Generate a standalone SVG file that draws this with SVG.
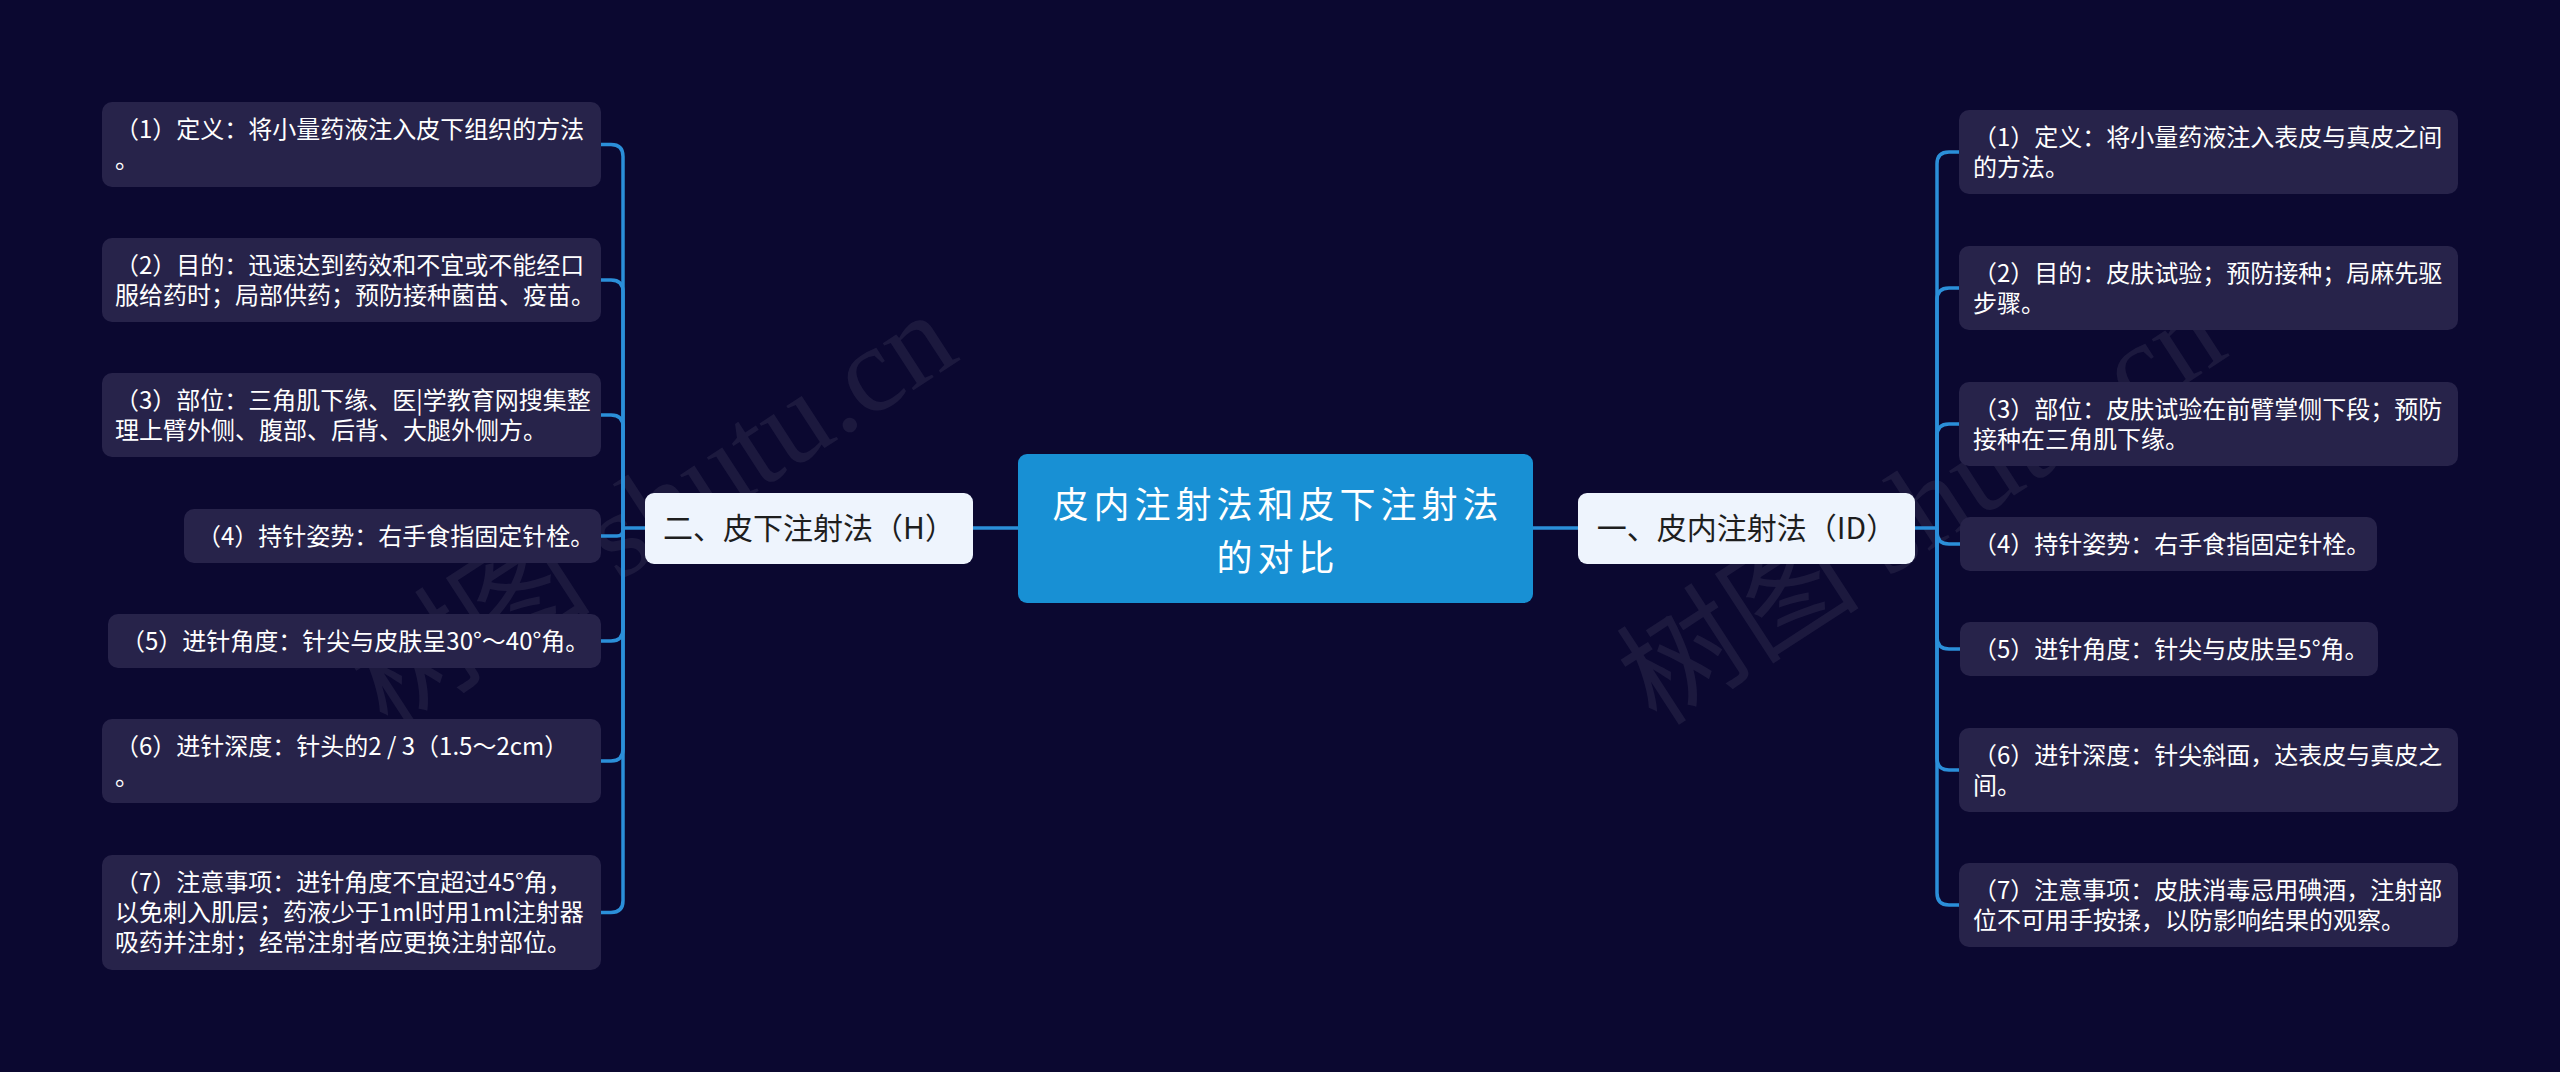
<svg xmlns="http://www.w3.org/2000/svg" width="2560" height="1072" viewBox="0 0 2560 1072">
<style>
.bg{fill:#0b0830}
.sub{fill:#27234a}
.st{font-family:"Noto Sans CJK SC","Noto Sans",sans-serif;font-size:24px;fill:#ffffff}
.main{fill:#eef4fd}
.mt{font-family:"Noto Sans CJK SC","Noto Sans",sans-serif;font-size:30px;fill:#1e1e1e;text-anchor:middle}
.center{fill:#1890d4}
.ct{font-family:"Noto Sans CJK SC","Noto Sans",sans-serif;font-size:36px;letter-spacing:5px;fill:#ffffff;text-anchor:middle}
.ln{fill:none;stroke:#2b8fd9;stroke-width:3.5;stroke-linecap:round}
.wm{font-family:"Liberation Serif","Noto Sans CJK SC",serif;font-size:122px;fill:#ffffff;fill-opacity:0.07;text-anchor:middle}
</style>
<rect class="bg" x="0" y="0" width="2560" height="1072"/>
<g id="watermark">
<text class="wm" transform="translate(675,545) rotate(-33)">树图 shutu.cn</text>
<text class="wm" transform="translate(1944,541) rotate(-33)">树图 shutu.cn</text>
</g>
<g id="connectors">
<path class="ln" d="M1018 528 H973"/>
<path class="ln" d="M1533 528 H1578"/>
<path class="ln" d="M645 528 H623"/>
<path class="ln" d="M623 528 V156.5 Q623 144.5 611 144.5 H601"/>
<path class="ln" d="M623 528 V292 Q623 280 611 280 H601"/>
<path class="ln" d="M623 528 V427 Q623 415 611 415 H601"/>
<path class="ln" d="M623 528 V530 Q623 536 617 536 H601"/>
<path class="ln" d="M623 528 V629 Q623 641 611 641 H601"/>
<path class="ln" d="M623 528 V749 Q623 761 611 761 H601"/>
<path class="ln" d="M623 528 V900.5 Q623 912.5 611 912.5 H601"/>
<path class="ln" d="M1915 528 H1937"/>
<path class="ln" d="M1937 528 V164 Q1937 152 1949 152 H1959"/>
<path class="ln" d="M1937 528 V300 Q1937 288 1949 288 H1959"/>
<path class="ln" d="M1937 528 V436 Q1937 424 1949 424 H1959"/>
<path class="ln" d="M1937 528 V532 Q1937 544 1949 544 H1960"/>
<path class="ln" d="M1937 528 V637 Q1937 649 1949 649 H1960"/>
<path class="ln" d="M1937 528 V758 Q1937 770 1949 770 H1959"/>
<path class="ln" d="M1937 528 V893 Q1937 905 1949 905 H1959"/>
</g>
<g id="root">
<rect class="center" x="1018" y="454" width="515" height="149" rx="9"/>
<text class="ct" x="1278" y="518">皮内注射法和皮下注射法</text>
<text class="ct" x="1278" y="571">的对比</text>
</g>
<g id="branch-left">
<rect class="main" x="645" y="493" width="328" height="71" rx="9"/>
<text class="mt" x="809" y="539">二、皮下注射法（H）</text>
</g>
<g id="branch-right">
<rect class="main" x="1578" y="493" width="337" height="71" rx="9"/>
<text class="mt" x="1746.5" y="539">一、皮内注射法（ID）</text>
</g>
<g id="L1"><rect class="sub" x="102" y="102" width="499" height="85" rx="10"/>
<text class="st" x="115" y="138">（1）定义：将小量药液注入皮下组织的方法</text>
<text class="st" x="115" y="168">。</text></g>
<g id="L2"><rect class="sub" x="102" y="238" width="499" height="84" rx="10"/>
<text class="st" x="115" y="274">（2）目的：迅速达到药效和不宜或不能经口</text>
<text class="st" x="115" y="304">服给药时；局部供药；预防接种菌苗、疫苗。</text></g>
<g id="L3"><rect class="sub" x="102" y="373" width="499" height="84" rx="10"/>
<text class="st" x="115" y="409">（3）部位：三角肌下缘、医|学教育网搜集整</text>
<text class="st" x="115" y="439">理上臂外侧、腹部、后背、大腿外侧方。</text></g>
<g id="L4"><rect class="sub" x="184" y="509" width="417" height="54" rx="10"/>
<text class="st" x="197" y="545">（4）持针姿势：右手食指固定针栓。</text></g>
<g id="L5"><rect class="sub" x="108" y="614" width="493" height="54" rx="10"/>
<text class="st" x="121" y="650">（5）进针角度：针尖与皮肤呈30°～40°角。</text></g>
<g id="L6"><rect class="sub" x="102" y="719" width="499" height="84" rx="10"/>
<text class="st" x="115" y="755">（6）进针深度：针头的2 / 3（1.5～2cm）</text>
<text class="st" x="115" y="785">。</text></g>
<g id="L7"><rect class="sub" x="102" y="855" width="499" height="115" rx="10"/>
<text class="st" x="115" y="891">（7）注意事项：进针角度不宜超过45°角，</text>
<text class="st" x="115" y="921">以免刺入肌层；药液少于1ml时用1ml注射器</text>
<text class="st" x="115" y="951">吸药并注射；经常注射者应更换注射部位。</text></g>
<g id="R1"><rect class="sub" x="1959" y="110" width="499" height="84" rx="10"/>
<text class="st" x="1973" y="146">（1）定义：将小量药液注入表皮与真皮之间</text>
<text class="st" x="1973" y="176">的方法。</text></g>
<g id="R2"><rect class="sub" x="1959" y="246" width="499" height="84" rx="10"/>
<text class="st" x="1973" y="282">（2）目的：皮肤试验；预防接种；局麻先驱</text>
<text class="st" x="1973" y="312">步骤。</text></g>
<g id="R3"><rect class="sub" x="1959" y="382" width="499" height="84" rx="10"/>
<text class="st" x="1973" y="418">（3）部位：皮肤试验在前臂掌侧下段；预防</text>
<text class="st" x="1973" y="448">接种在三角肌下缘。</text></g>
<g id="R4"><rect class="sub" x="1960" y="517" width="417" height="54" rx="10"/>
<text class="st" x="1973" y="553">（4）持针姿势：右手食指固定针栓。</text></g>
<g id="R5"><rect class="sub" x="1960" y="622" width="418" height="54" rx="10"/>
<text class="st" x="1973" y="658">（5）进针角度：针尖与皮肤呈5°角。</text></g>
<g id="R6"><rect class="sub" x="1959" y="728" width="499" height="84" rx="10"/>
<text class="st" x="1973" y="764">（6）进针深度：针尖斜面，达表皮与真皮之</text>
<text class="st" x="1973" y="794">间。</text></g>
<g id="R7"><rect class="sub" x="1959" y="863" width="499" height="84" rx="10"/>
<text class="st" x="1973" y="899">（7）注意事项：皮肤消毒忌用碘酒，注射部</text>
<text class="st" x="1973" y="929">位不可用手按揉，以防影响结果的观察。</text></g>
</svg>
